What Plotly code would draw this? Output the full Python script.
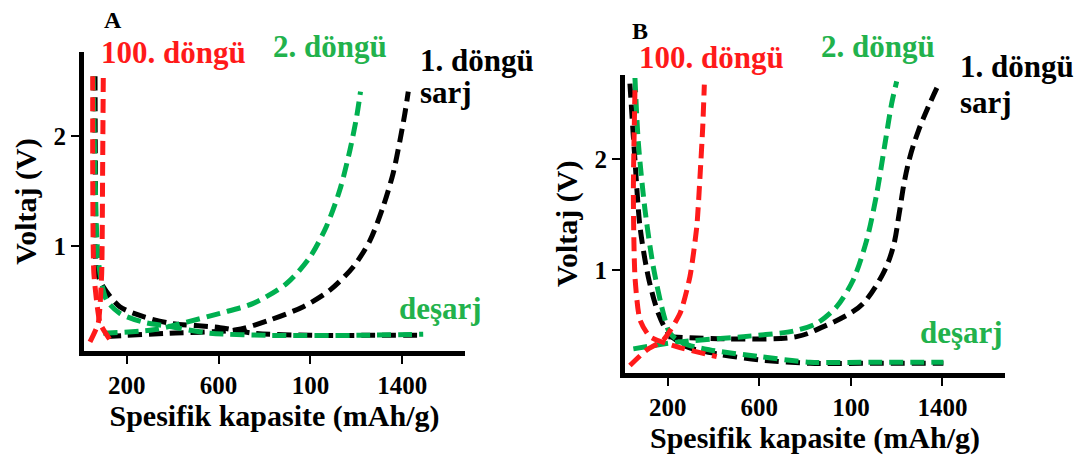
import plotly.graph_objects as go

# ---------------- data ----------------
x_tickvals = [200, 600, 1000, 1400]
x_ticktext = ["200", "600", "100", "1400"]
y_tickvals = [1, 2]
y_ticktext = ["1", "2"]

# Panel A
A_c1_charge_x = [113, 388, 678, 824, 969, 1085, 1186, 1259, 1317, 1360, 1390, 1411, 1426]
A_c1_charge_y = [0.18, 0.21, 0.24, 0.33, 0.45, 0.60, 0.81, 1.05, 1.36, 1.66, 1.96, 2.20, 2.40]
A_c1_dis_x = [62, 64, 69, 98, 170, 272, 388, 606, 751, 1000, 1250, 1477]
A_c1_dis_y = [2.54, 1.60, 0.78, 0.63, 0.45, 0.36, 0.30, 0.26, 0.21, 0.19, 0.19, 0.19]
A_c2_charge_x = [98, 316, 461, 606, 751, 896, 998, 1070, 1128, 1172, 1201, 1218]
A_c2_charge_y = [0.21, 0.24, 0.31, 0.39, 0.48, 0.66, 0.90, 1.18, 1.51, 1.87, 2.17, 2.40]
A_c2_dis_x = [54, 62, 72, 84, 112, 170, 272, 388, 562, 824, 1200, 1491]
A_c2_dis_y = [2.54, 1.66, 0.99, 0.75, 0.51, 0.39, 0.31, 0.27, 0.21, 0.19, 0.19, 0.20]
A_c100_charge_x = [40, 76, 91, 95, 98]
A_c100_charge_y = [0.13, 0.30, 0.75, 1.66, 2.54]
A_c100_dis_x = [52, 52, 57, 84, 127]
A_c100_dis_y = [2.54, 1.66, 0.75, 0.30, 0.15]

# Panel B
B_c1_charge_x = [203, 458, 763, 880, 996, 1054, 1141, 1185, 1211, 1232, 1258, 1294, 1338, 1382]
B_c1_charge_y = [0.40, 0.38, 0.40, 0.49, 0.61, 0.70, 0.97, 1.21, 1.51, 1.78, 2.02, 2.25, 2.47, 2.67]
B_c1_dis_x = [35, 57, 79, 115, 159, 203, 283, 428, 603, 821, 1100, 1404]
B_c1_dis_y = [2.68, 1.99, 1.39, 0.94, 0.61, 0.43, 0.31, 0.24, 0.19, 0.16, 0.16, 0.16]
B_c2_charge_x = [50, 239, 530, 748, 851, 938, 1010, 1069, 1113, 1149, 1178, 1200]
B_c2_charge_y = [0.29, 0.35, 0.40, 0.45, 0.52, 0.67, 0.91, 1.27, 1.69, 2.14, 2.50, 2.70]
B_c2_dis_x = [57, 72, 101, 137, 181, 210, 268, 385, 603, 821, 1100, 1404]
B_c2_dis_y = [2.73, 2.14, 1.54, 1.03, 0.61, 0.43, 0.34, 0.28, 0.22, 0.17, 0.17, 0.17]
B_c100_charge_x = [35, 108, 181, 254, 297, 327, 341, 353, 360]
B_c100_charge_y = [0.14, 0.28, 0.37, 0.61, 0.94, 1.39, 1.84, 2.29, 2.67]
B_c100_dis_x = [57, 50, 57, 79, 123, 239, 414]
B_c100_dis_y = [2.62, 1.69, 0.94, 0.55, 0.40, 0.31, 0.22]

# ---------------- styles ----------------
BLACK = "#000000"
GREEN = "#00b050"
RED = "#ff1a1a"
TXT_GREEN = "#22b24c"
DASH = "14px,7px"
LW = 5
FONT = "Liberation Serif, Times New Roman, serif"

fig = go.Figure()

def add(x, y, color, xa, ya, name, smooth=0.8):
    fig.add_trace(go.Scatter(
        x=x, y=y, mode="lines", name=name, showlegend=False,
        line=dict(color=color, width=LW, dash=DASH, shape="spline", smoothing=smooth),
        xaxis=xa, yaxis=ya, hoverinfo="skip"))

# Panel A
add(A_c1_charge_x, A_c1_charge_y, BLACK, "x", "y", "A 1. döngü sarj")
add(A_c1_dis_x, A_c1_dis_y, BLACK, "x", "y", "A 1. döngü deşarj")
add(A_c2_charge_x, A_c2_charge_y, GREEN, "x", "y", "A 2. döngü sarj")
add(A_c2_dis_x, A_c2_dis_y, GREEN, "x", "y", "A 2. döngü deşarj")
add(A_c100_charge_x, A_c100_charge_y, RED, "x", "y", "A 100. döngü sarj", 0.5)
add(A_c100_dis_x, A_c100_dis_y, RED, "x", "y", "A 100. döngü deşarj", 0.5)

# Panel B
add(B_c1_charge_x, B_c1_charge_y, BLACK, "x2", "y2", "B 1. döngü sarj", 1.0)
add(B_c1_dis_x, B_c1_dis_y, BLACK, "x2", "y2", "B 1. döngü deşarj")
add(B_c2_charge_x, B_c2_charge_y, GREEN, "x2", "y2", "B 2. döngü sarj")
add(B_c2_dis_x, B_c2_dis_y, GREEN, "x2", "y2", "B 2. döngü deşarj")
add(B_c100_charge_x, B_c100_charge_y, RED, "x2", "y2", "B 100. döngü sarj", 0.6)
add(B_c100_dis_x, B_c100_dis_y, RED, "x2", "y2", "B 100. döngü deşarj", 0.6)

W, H = 1081, 461

def px(x):
    return x / W

def py(y):
    return 1 - y / H

tickfont = dict(family=FONT, size=25, color="black", weight="bold")
titlefont = dict(family=FONT, size=30, color="black", weight="bold")

axis_common = dict(showgrid=False, zeroline=False, showline=True, linecolor="black",
                   linewidth=5, ticks="outside", ticklen=8, tickwidth=2,
                   tickcolor="black", tickfont=tickfont, fixedrange=True,
                   automargin=False)

fig.update_layout(
    width=W, height=H,
    margin=dict(l=0, r=0, t=0, b=0, autoexpand=False),
    paper_bgcolor="white", plot_bgcolor="white",
    xaxis=dict(domain=[px(84), px(465)], range=[14, 1673], anchor="y",
               tickvals=x_tickvals, ticktext=x_ticktext,
               title=dict(text="Spesifik kapasite (mAh/g)", font=titlefont, standoff=6),
               **axis_common),
    yaxis=dict(domain=[py(351), py(52)], range=[0.048, 2.76], anchor="x",
               tickvals=y_tickvals, ticktext=y_ticktext,
               title=dict(text="Voltaj (V)", font=titlefont, standoff=10),
               **axis_common),
    xaxis2=dict(domain=[px(625), px(1005)], range=[13.5, 1673], anchor="y2",
                tickvals=x_tickvals, ticktext=x_ticktext,
                title=dict(text="Spesifik kapasite (mAh/g)", font=titlefont, standoff=6),
                **axis_common),
    yaxis2=dict(domain=[py(372.5), py(75)], range=[0.077, 2.757], anchor="x2",
                tickvals=y_tickvals, ticktext=y_ticktext,
                title=dict(text="Voltaj (V)", font=titlefont, standoff=10),
                **axis_common),
)

def note(text, x, y, color, size=31, xanchor="center"):
    fig.add_annotation(text=text, x=px(x), y=py(y), xref="paper", yref="paper",
                       xanchor=xanchor, yanchor="middle", showarrow=False,
                       font=dict(family=FONT, size=size, color=color, weight="bold"))

# Panel A labels
note("A", 113, 20, "black", 24)
note("100. döngü", 173, 53, RED)
note("2. döngü", 330, 47, TXT_GREEN)
note("1. döngü", 418, 60, "black", xanchor="left")
note("sarj", 418, 93, "black", xanchor="left")
note("deşarj", 440, 308, TXT_GREEN)

# Panel B labels
note("B", 640, 31, "black", 24)
note("100. döngü", 711, 58, RED)
note("2. döngü", 878, 47, TXT_GREEN)
note("1. döngü", 958, 67, "black", xanchor="left")
note("sarj", 958, 102, "black", xanchor="left")
note("deşarj", 961, 332, TXT_GREEN)

fig.write_html("out.html",
               config={"displayModeBar": False},
               post_script="document.body.style.margin='0px';document.body.style.padding='0px';")
